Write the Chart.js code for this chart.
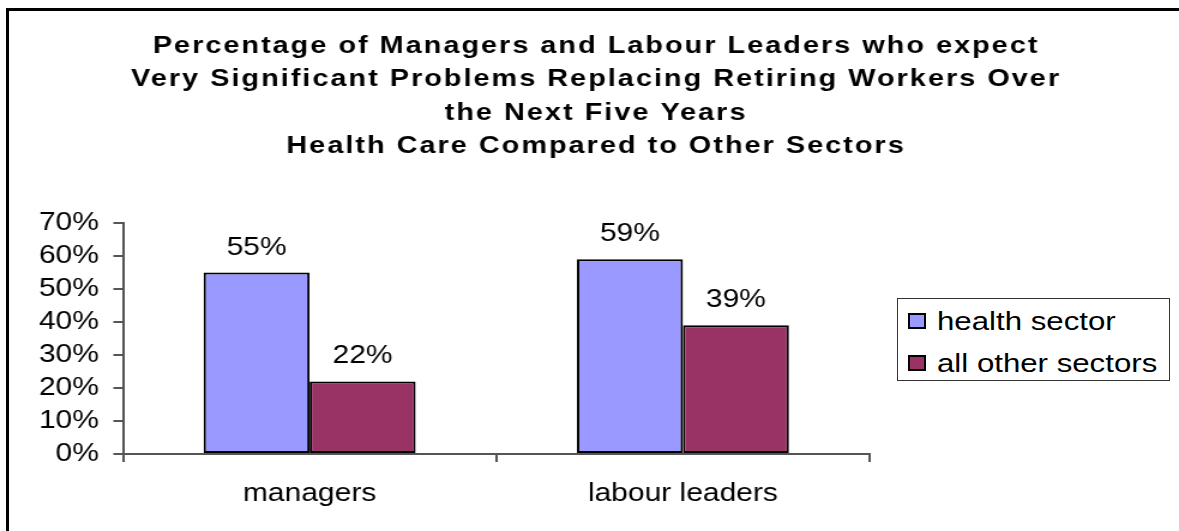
<!DOCTYPE html>
<html>
<head>
<meta charset="utf-8">
<script src="https://cdn.jsdelivr.net/npm/chart.js@4"></script>
<style>
  html, body { margin: 0; padding: 0; background: #fff; overflow: hidden; }
  #contenedor { position: relative; width: 1179px; height: 531px; overflow: hidden; }
  .linea { position: absolute; background: #000; }
  #lineaIzq { left: 6px; top: 8px; width: 3px; height: 600px; }
  #lineaSup { left: 6px; top: 8px; width: 1400px; height: 3px; }
  #leyenda { position: absolute; left: 897px; top: 298px; width: 271px; height: 81px;
             border: 1.5px solid #333; background: #fff; }
  .item { position: absolute; left: 10px; height: 30px; font: 26px 'Liberation Sans', Arial, sans-serif;
          color: #000; white-space: nowrap; }
  .item .caja { position: absolute; left: 0; top: 7px; width: 14px; height: 12px; border: 2px solid #000; }
  .item .texto { position: absolute; left: 29px; top: 0; line-height: 30px;
                 transform: scaleX(1.2); transform-origin: left center; }
</style>
</head>
<body>
<div id="contenedor">
  <div class="linea" id="lineaIzq"></div>
  <div class="linea" id="lineaSup"></div>
  <!-- Excel stretched the chart sideways, so the canvas is drawn narrow and widened -->
  <canvas id="grafico" width="983" height="531"
          style="position:absolute;left:0;top:0;width:1179px;height:531px;"></canvas>
  <div id="leyenda"></div>
</div>
<script>
"use strict"

const titulo = [
    'Percentage of Managers and Labour Leaders who expect',
    'Very Significant Problems Replacing Retiring Workers Over',
    'the Next Five Years',
    'Health Care Compared to Other Sectors'
];
const categorias = ['managers', 'labour leaders'];
const sectorSalud = [55, 59];
const otrosSectores = [22, 39];
const seriesNombres = ['health sector', 'all other sectors'];
const colores = ['#9999FF', '#993366'];
const ejeMax = 70;
const ejePaso = 10;

const fuente = "'Liberation Sans', Arial, sans-serif";

// Titulo en negrita con algo de espacio entre letras, como en Excel
const tituloPlugin = {
    id: 'tituloEspaciado',
    afterDraw(chart) {
        const ctx = chart.ctx;
        ctx.save();
        ctx.font = 'bold 24px ' + fuente;
        ctx.fillStyle = '#000';
        ctx.textAlign = 'center';
        ctx.textBaseline = 'alphabetic';
        if ('letterSpacing' in ctx) ctx.letterSpacing = '1.7px';
        titulo.forEach((linea, i) => {
            ctx.fillText(linea, 497, 53 + i * 33.4);
        });
        ctx.restore();
    }
};

// Etiquetas de valor encima de cada barra
const etiquetasPlugin = {
    id: 'etiquetasValor',
    afterDatasetsDraw(chart) {
        const ctx = chart.ctx;
        ctx.save();
        ctx.font = '25px ' + fuente;
        ctx.fillStyle = '#000';
        ctx.textAlign = 'center';
        ctx.textBaseline = 'alphabetic';
        chart.data.datasets.forEach((ds, i) => {
            chart.getDatasetMeta(i).data.forEach((barra, j) => {
                ctx.fillText(ds.data[j] + '%', barra.x, barra.y - 18);
            });
        });
        ctx.restore();
    }
};

const ctx = document.getElementById('grafico');

const grafico = new Chart(ctx, {
    type: 'bar',
    data: {
        labels: categorias,
        datasets: [
            { label: seriesNombres[0], data: sectorSalud, backgroundColor: colores[0] },
            { label: seriesNombres[1], data: otrosSectores, backgroundColor: colores[1] }
        ]
    },
    options: {
        responsive: false,
        animation: false,
        devicePixelRatio: 1,
        layout: { padding: { top: 223, right: 258, bottom: 0, left: 0 } },
        datasets: {
            bar: {
                categoryPercentage: 0.568,
                barPercentage: 1,
                borderColor: '#000',
                borderWidth: 2,
                borderSkipped: false
            }
        },
        plugins: {
            legend: { display: false },
            title: { display: false },
            tooltip: { enabled: false }
        },
        scales: {
            x: {
                afterFit: s => { s.height = 77; },
                grid: { offset: true, drawOnChartArea: false, drawTicks: true, tickLength: 8,
                        color: '#555', lineWidth: 2 },
                border: { display: true, color: '#555', width: 2 },
                ticks: { color: '#000', padding: 17, font: { family: fuente, size: 25 } }
            },
            y: {
                min: 0,
                max: ejeMax,
                afterFit: s => { s.width = 102.5; },
                grid: { drawOnChartArea: false, drawTicks: true, tickLength: 8,
                        color: '#555', lineWidth: 2 },
                border: { display: true, color: '#555', width: 2 },
                ticks: { stepSize: ejePaso, color: '#000', padding: 12,
                         font: { family: fuente, size: 25 },
                         callback: v => v + '%' }
            }
        }
    },
    plugins: [tituloPlugin, etiquetasPlugin]
});

// Leyenda en HTML con marco, a la derecha
const leyenda = document.getElementById('leyenda');
grafico.data.datasets.forEach((ds, i) => {
    const div = document.createElement('div');
    div.className = 'item';
    div.style.top = (7 + i * 42) + 'px';
    div.innerHTML = `<span class="caja" style="background:${ds.backgroundColor}"></span><span class="texto">${ds.label}</span>`;
    leyenda.appendChild(div);
});
</script>
</body>
</html>
